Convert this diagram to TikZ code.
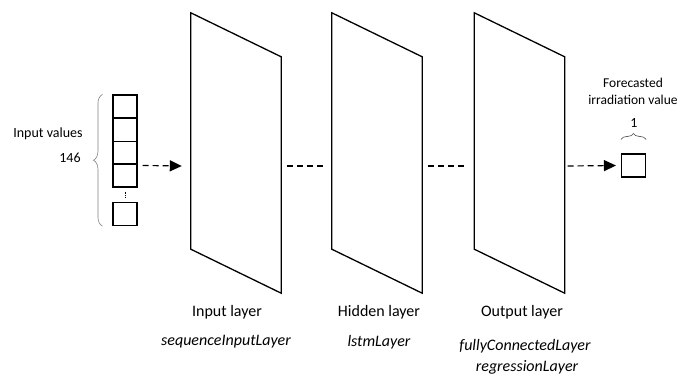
\documentclass[tikz,border=0pt]{standalone}
\usepackage{fontspec}
\setmainfont{Carlito}
\usetikzlibrary{arrows.meta,positioning,decorations.pathreplacing}

\begin{document}
\begin{tikzpicture}[x=1pt,y=-1pt,
 cell/.style={draw,line width=1.1pt,minimum width=24pt,minimum height=23pt,inner sep=0pt},
 layer/.style={minimum width=90pt,minimum height=280pt,inner sep=0pt},
 plane/.style={draw,line width=1.3pt,line join=miter},
 link/.style={line width=1.2pt,dash pattern=on 6pt off 4pt},
 lbl/.style={font=\fontsize{16}{19}\selectfont},
 api/.style={font=\fontsize{16}{19}\selectfont\itshape},
 note/.style={font=\fontsize{14}{17}\selectfont,align=center},
 >={Triangle[length=12pt,width=11pt]}]
\useasboundingbox (0,0) rectangle (681,376);
% input vector
\node[cell] (c1) at (125,106.5) {};
\node[cell] (c2) at (125,130) {};
\node[cell] (c3) at (125,153) {};
\node[cell] (c4) at (125,175.5) {};
\node[cell] (cn) at (125,214) {};
\draw[densely dotted,line width=0.8pt] ([yshift=-4pt]c4.south) -- ([yshift=4pt]cn.north);
\draw[decorate,decoration={brace,amplitude=9pt},gray,line width=0.6pt] ([xshift=-10pt]cn.south west) -- ([xshift=-10pt]c1.north west);
\node[note] (inval) at (48,134) {Input values};
\node[note] (count) at (70,158) {146};
% layers
\node[layer] (L1) at (236,153) {};
\node[layer] (L2) at (377,153) {};
\node[layer] (L3) at (519.5,153) {};
\draw[plane] (L1.north west) -- ([yshift=-44pt]L1.north east) -- (L1.south east) -- ([yshift=44pt]L1.south west) -- cycle;
\draw[plane] (L2.north west) -- ([yshift=-44pt]L2.north east) -- (L2.south east) -- ([yshift=44pt]L2.south west) -- cycle;
\draw[plane] (L3.north west) -- ([yshift=-44pt]L3.north east) -- (L3.south east) -- ([yshift=44pt]L3.south west) -- cycle;
% output value
\node[cell] (out) at (633.5,165.5) {};
\draw[decorate,decoration={brace,amplitude=6pt},gray!60!black,line width=0.6pt] ([yshift=14pt]out.north west) -- ([yshift=14pt]out.north east);
\node[note] (one) at (634,123) {1};
\node[note,font=\fontsize{13.5}{17}\selectfont] (fcast) at (633,91) {Forecasted\\irradiation value};
% connectors
\draw[link,->] ([shift={(5pt,-2pt)}]c4.north east) -- ([shift={(-9pt,-13pt)}]L1.west);
\draw[link] ([shift={(6pt,-13pt)}]L1.east) -- ([shift={(-9pt,-13pt)}]L2.west);
\draw[link] ([shift={(6pt,-13pt)}]L2.east) -- ([shift={(-7pt,-13pt)}]L3.west);
\draw[link,->] ([shift={(3pt,-13pt)}]L3.east) -- ([xshift=-5pt]out.west);
% labels
\node[lbl] (t1) at (227,312) {Input layer};
\node[api] (a1) at (226,342) {sequenceInputLayer};
\node[lbl] (t2) at (379,312) {Hidden layer};
\node[api] (a2) at (379,342) {lstmLayer};
\node[lbl] (t3) at (522,312) {Output layer};
\node[api] (a3) at (525,346) {fullyConnectedLayer};
\node[api] (a4) at (527,367) {regressionLayer};
\end{tikzpicture}
\end{document}
